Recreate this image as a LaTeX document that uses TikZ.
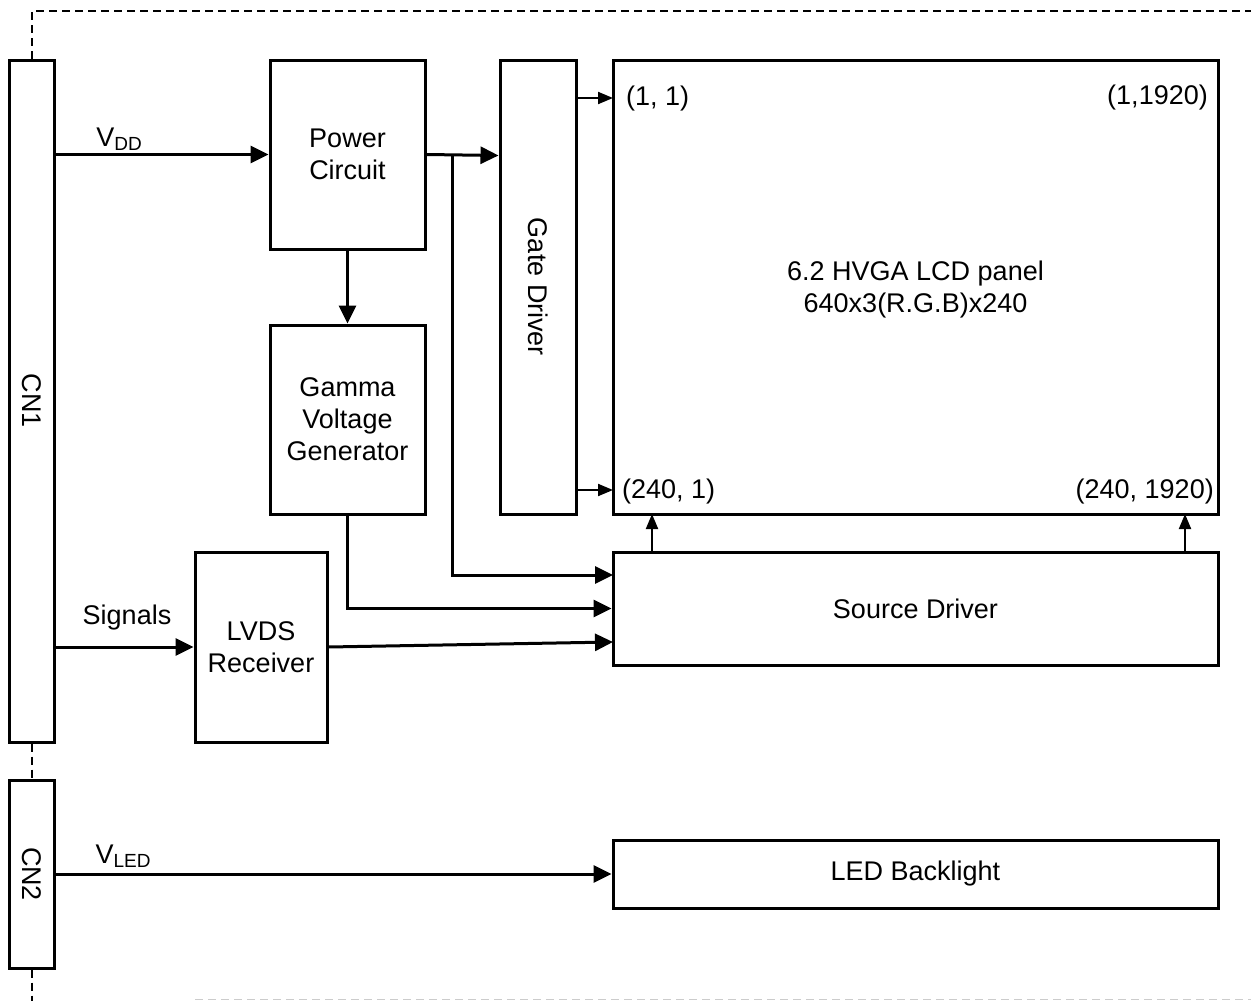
\documentclass[tikz,border=0pt]{standalone}
\usepackage{fontspec}
\setmainfont{Liberation Sans}
\usetikzlibrary{arrows.meta,calc}
\newcommand\mainsz{\fontsize{27}{32}\selectfont}
\newcommand\subsz{\fontsize{19}{20}\selectfont}
\begin{document}
\begin{tikzpicture}[x=1pt,y=-1pt,
  box/.style={draw, line width=3pt, inner sep=0pt, align=center, font=\mainsz},
  lbl/.style={inner sep=0pt, font=\mainsz},
  arr/.style={line width=3pt, -{Triangle[length=18pt,width=17pt]}},
  tarr/.style={line width=2pt, -{Triangle[length=15pt,width=12pt]}},
  dsh/.style={line width=2pt, dash pattern=on 8pt off 5pt}]
\useasboundingbox (0,0) rectangle (1251,1001);

% blocks
\node[box, minimum width=45pt, minimum height=682pt] (cn1) at (31.5,401) {};
\node[lbl, rotate=-90] (cn1t) at (31.5,401) {CN1};
\node[box, minimum width=45pt, minimum height=188pt] (cn2) at (31.5,874) {};
\node[lbl, rotate=-90] (cn2t) at (31.5,874) {CN2};
\node[box, minimum width=155pt, minimum height=189pt] (pc) at (347.5,154.5) {Power\\Circuit};
\node[box, minimum width=76pt, minimum height=454pt] (gd) at (538,287) {};
\node[lbl, rotate=-90] (gdt) at (538,287) {Gate Driver};
\node[box, minimum width=155pt, minimum height=189pt] (gam) at (347.5,419.5) {Gamma\\Voltage\\Generator};
\node[box, minimum width=132pt, minimum height=190pt] (lvds) at (261,647) {LVDS\\Receiver};
\node[box, minimum width=605pt, minimum height=454pt] (lcd) at (915.5,287) {};
\node[lbl, align=center] (lcdt) at (915.5,290) {6.2 HVGA LCD panel\\640x3(R.G.B)x240};
\node[box, minimum width=605pt, minimum height=113pt] (sd) at (915.5,608.5) {Source Driver};
\node[box, minimum width=605pt, minimum height=68pt] (led) at (915.5,874) {LED Backlight};

% corner labels
\node[lbl, anchor=west] (c11) at (626,99) {(1, 1)};
\node[lbl, anchor=east] (c1n) at (1208,98) {(1,1920)};
\node[lbl, anchor=west] (cm1) at (622,492) {(240, 1)};
\node[lbl, anchor=east] (cmn) at (1214,492) {(240, 1920)};

% signal labels
\node[lbl] (vdd) at (119,139) {V\raisebox{-0.3ex}{\subsz DD}};
\node[lbl] (sig) at (127,618) {Signals};
\node[lbl] (vled) at (123,856) {V\raisebox{-0.3ex}{\subsz LED}};

% coordinates
\coordinate (j1) at (452,155.5);
\coordinate (s1) at (613,575);
\coordinate (s3) at (613,642);
\coordinate (p1) at (613,98);
\coordinate (p2) at (613,490);
\coordinate (q1) at (652,514);
\coordinate (q2) at (1185,514);

% connectors
\draw[arr] (cn1.east |- pc.west) -- (pc.west);
\draw[arr] (pc.east) -- (gd.west |- j1);
\draw[arr] (pc.south) -- (gam.north);
\draw[arr] (j1) |- (s1);
\draw[arr] (gam.south) |- (sd.west);
\draw[arr] (lvds.east) -- (s3);
\draw[arr] (cn1.east |- lvds.west) -- (lvds.west);
\draw[arr] (cn2.east |- led.west) -- (led.west);
\draw[tarr] (gd.east |- p1) -- (p1);
\draw[tarr] (gd.east |- p2) -- (p2);
\draw[tarr] (sd.north -| q1) -- (q1);
\draw[tarr] (sd.north -| q2) -- (q2);

% dashed outline
\draw[dsh] (cn1.north) |- (1251,11);
\draw[dsh] (cn1.south) -- (cn2.north);
\draw[dsh] (cn2.south) -- (31.5,1001);
\draw[dsh, line width=1.5pt, gray!40] (195,999.5) -- (1251,999.5);
\end{tikzpicture}
\end{document}
